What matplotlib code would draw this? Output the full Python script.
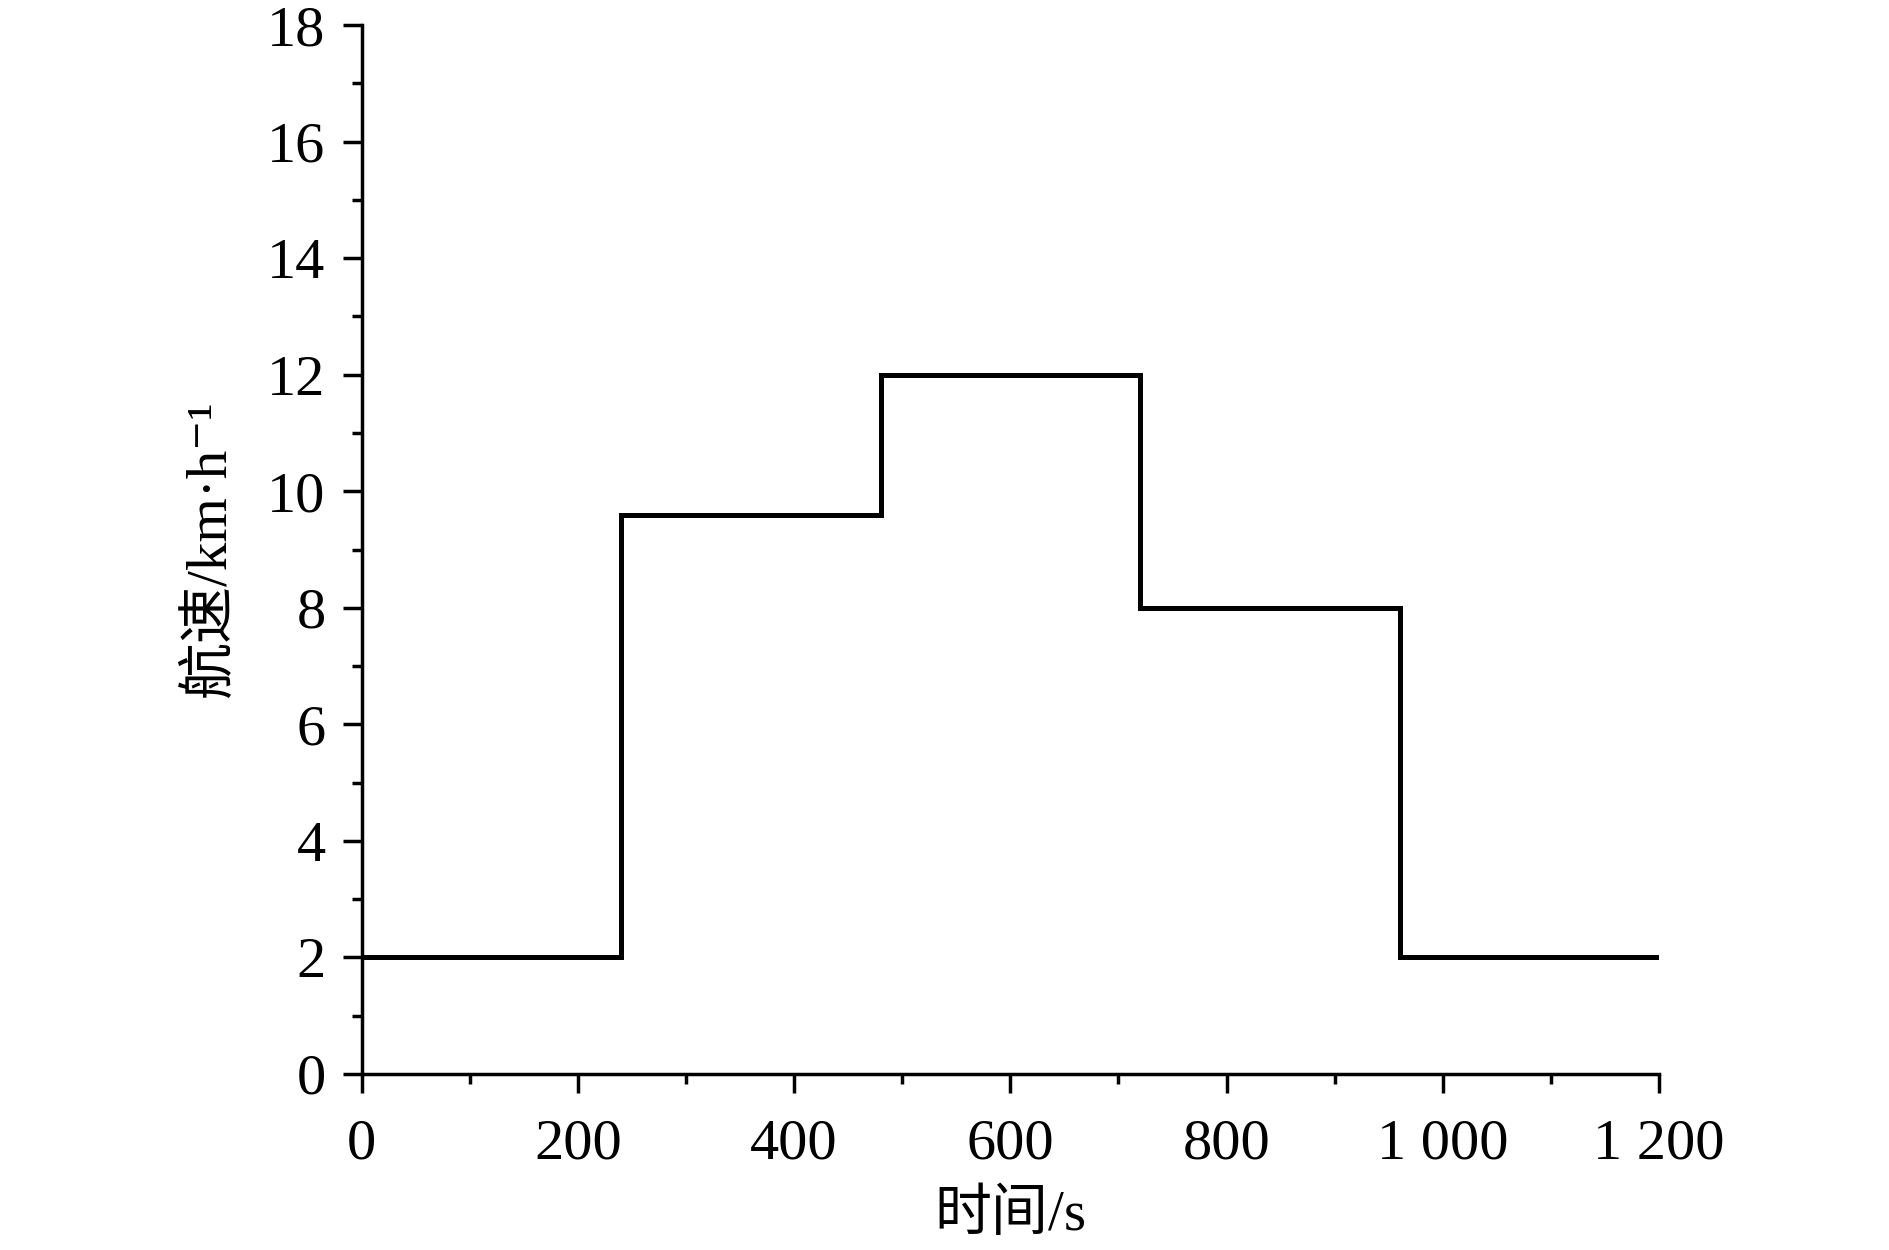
import matplotlib
matplotlib.use("Agg")
import matplotlib.pyplot as plt
from matplotlib.ticker import MultipleLocator, FuncFormatter

plt.rcParams['font.family'] = ['Liberation Serif', 'Noto Sans CJK SC', 'DejaVu Serif']

# 时间节点 (s) 与各段航速 (km/h)
tiempos = [0, 240, 480, 720, 960, 1200]
velocidades = [2, 9.6, 12, 8, 2, 2]

fig = plt.figure(figsize=(18.9, 12.5), dpi=100)
ax = fig.add_axes([361.7 / 1890, 1 - 1074 / 1250, (1659 - 361.7) / 1890, (1074 - 25) / 1250])

ax.step(tiempos, velocidades, where='post', color='black', linewidth=3.6, solid_joinstyle='miter')

ax.set_xlim(0, 1200)
ax.set_ylim(0, 18)
ax.xaxis.set_major_locator(MultipleLocator(200))
ax.xaxis.set_minor_locator(MultipleLocator(100))
ax.yaxis.set_major_locator(MultipleLocator(2))
ax.yaxis.set_minor_locator(MultipleLocator(1))
ax.xaxis.set_major_formatter(FuncFormatter(lambda v, p: f"{int(v):,}".replace(",", " ")))

for lado in ['top', 'right']:
    ax.spines[lado].set_visible(False)
for lado in ['left', 'bottom']:
    ax.spines[lado].set_linewidth(2.5)

ax.tick_params(which='major', direction='out', length=14, width=2.5, labelsize=42)
ax.tick_params(axis='x', which='major', pad=18)
ax.tick_params(axis='y', which='major', pad=12)
ax.tick_params(which='minor', direction='out', length=7, width=2.5)

ax.set_xlabel('时间/s', fontsize=41, labelpad=14)
ax.set_ylabel('航速/km·h⁻¹', fontsize=41, labelpad=22)

fig.savefig('out.png', dpi=100)
